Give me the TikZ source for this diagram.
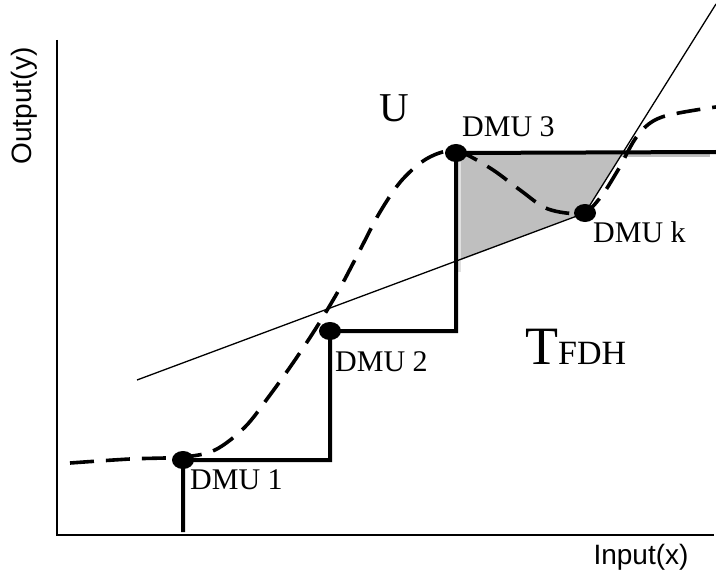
\documentclass[tikz,border=0pt]{standalone}
\usepackage{fontspec}
\setmainfont{Liberation Serif}
\newfontfamily\axisfont{Liberation Sans}
\usetikzlibrary{shapes.geometric}
\begin{document}
\begin{tikzpicture}[x=1pt,y=-1pt,
  dot/.style={ellipse,fill=black,inner sep=0pt,minimum width=22pt,minimum height=18pt},
  stepline/.style={line width=4pt,line join=miter},
  thinline/.style={line width=1.3pt},
  frontier/.style={line width=3.6pt,dash pattern=on 24pt off 12pt},
  axisline/.style={line width=2pt},
  dmulabel/.style={anchor=base west,inner sep=0pt,font=\fontsize{30}{32}\selectfont},
  axislabel/.style={inner sep=0pt,font=\axisfont\fontsize{28}{30}\selectfont}]
\useasboundingbox (0,0) rectangle (716,578);
% coordinates
\coordinate (o) at (57,535);
\coordinate (ytop) at (57,40);
\coordinate (xend) at (714,535);
\coordinate (s0) at (183,532);
\coordinate (send) at (716,152);
\coordinate (tl) at (137,380);
\coordinate (tr) at (716,4);
\coordinate (g1) at (622,153);
\coordinate (g2) at (456,262);
% gray region
\fill[black!25] (456,153) -- (g1) -- (585,213) -- (g2) -- cycle;
\draw[black!25,line width=3pt] (458,156) -- (710,156);
\draw[black!12,line width=3pt] (459,153) -- (459,272);
% axes
\draw[axisline] (ytop) -- (o) -- (xend);
% thin lines
\coordinate (dkc) at (585,213);
\draw[thinline] (tl) -- (dkc) -- (tr);
% frontier dashed
\draw[frontier] plot[smooth,tension=0.55] coordinates{(70,463) (130,459) (183,457) (215,450) (245,427) (270,395) (295,360) (318,325) (340,288) (360,250) (380,212) (402,180) (428,158) (456,151) (490,168) (520,190) (548,209) (582,213) (600,198) (618,170) (638,135) (662,117) (716,107)};
% dots
\node[dot] (d1) at (183,460) {};
\node[dot] (d2) at (330,331) {};
\node[dot] (d3) at (456,153) {};
\node[dot] (dk) at (585,213) {};
% step line
\draw[stepline] (s0) -- (d1.center) -| (d2.center) -| (d3.center) -- (send);
% labels
\node[dmulabel] (l1) at (190,489) {DMU 1};
\node[dmulabel] (l2) at (335,371) {DMU 2};
\node[dmulabel] (l3) at (462,137) {DMU 3};
\node[dmulabel] (lk) at (593,242) {DMU k};
\node[anchor=base west,inner sep=0pt,font=\fontsize{41}{43}\selectfont] (u) at (379,122) {U};
\node[anchor=base west,inner sep=0pt] (t) at (525,364) {\fontsize{54}{56}\selectfont T\fontsize{34}{36}\selectfont FDH};
\node[axislabel,rotate=90] (yl) at (24,106) {Output(y)};
\node[axislabel] (xl) at (641,557) {Input(x)};
\end{tikzpicture}
\end{document}
